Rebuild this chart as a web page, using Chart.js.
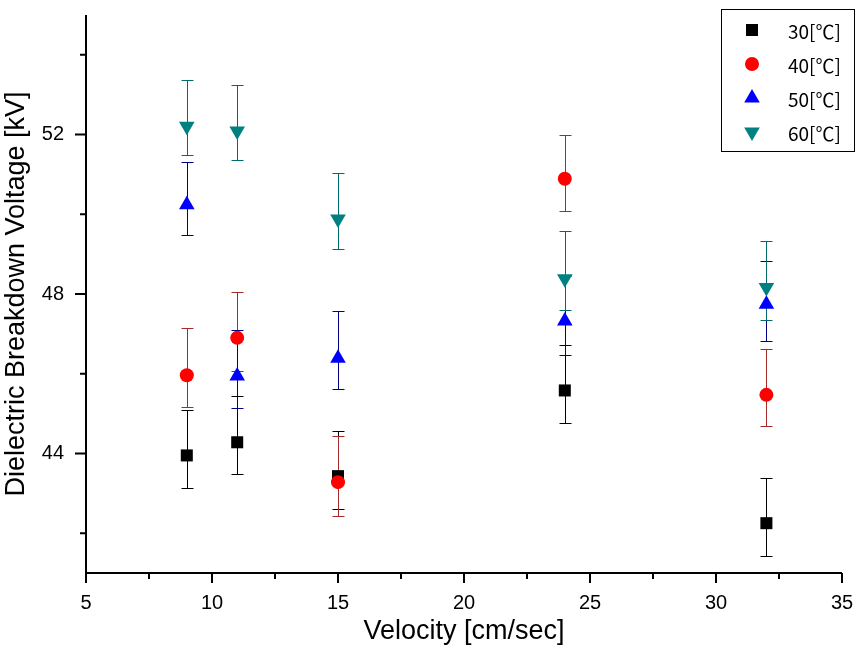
<!DOCTYPE html>
<html>
<head>
<meta charset="utf-8">
<script src="https://cdn.jsdelivr.net/npm/chart.js"></script>
<style>
  body { margin: 0; background: #ffffff; }
</style>
</head>
<body>
<canvas id="myChart" width="859" height="654"></canvas>
<script>
// velocity [cm/sec]
let velocity = [9, 11, 15, 24, 32];

// mean breakdown voltage [kV] and error bar ends, one set per temperature
let v30 = [43.95, 44.28, 43.43, 45.58, 42.25];
let v30Low = [43.14, 43.49, 42.61, 44.77, 41.42];
let v30High = [45.08, 45.44, 44.56, 46.71, 43.39];

let v40 = [45.96, 46.9, 43.28, 50.89, 45.47];
let v40Low = [45.17, 46.06, 42.44, 50.09, 44.68];
let v40High = [47.15, 48.04, 44.43, 52.0, 46.61];

let v50 = [50.24, 45.94, 46.39, 47.32, 47.74];
let v50Low = [49.47, 45.15, 45.62, 46.48, 46.81];
let v50High = [51.31, 47.1, 47.57, 48.44, 48.82];

let v60 = [52.21, 52.09, 49.88, 48.38, 48.16];
let v60Low = [51.49, 51.35, 49.12, 47.6, 47.34];
let v60High = [53.37, 53.25, 51.04, 49.59, 49.34];

let seriesLabels = ["30[\u2103]", "40[\u2103]", "50[\u2103]", "60[\u2103]"];

// tick labels
let xTicks = [5, 10, 15, 20, 25, 30, 35];
let xMinorTicks = [7.5, 12.5, 17.5, 22.5, 27.5, 32.5];
let yTicks = [44, 48, 52];
let yMinorTicks = [42, 46, 50, 54];

const FONT = "'Liberation Sans', Arial, sans-serif";
const LEGEND_FONT = "'Noto Sans CJK KR', 'Liberation Sans', sans-serif";

function points(ys) {
  return ys.map(function (v, i) {
    return { x: velocity[i], y: v };
  });
}

function makeSet(label, ys, low, high, color, barColor, style, radius, rotation, order) {
  return {
    label: label,
    data: points(ys),
    low: low,
    high: high,
    barColor: barColor,
    backgroundColor: color,
    borderColor: color,
    borderWidth: 0,
    pointStyle: style,
    pointRadius: radius,
    pointHoverRadius: radius,
    pointRotation: rotation,
    showLine: false,
    order: order,
  };
}

/********************* error bars (under the markers) *********************/
const errorBars = {
  id: "errorBars",
  beforeDatasetsDraw: function (chart) {
    const ctx = chart.ctx;
    const xs = chart.scales.x;
    const ys = chart.scales.y;
    ctx.save();
    ctx.lineWidth = 1;
    chart.data.datasets.forEach(function (ds) {
      ctx.strokeStyle = ds.barColor;
      ds.data.forEach(function (p, i) {
        const px = Math.round(xs.getPixelForValue(p.x)) + 0.5;
        const top = Math.round(ys.getPixelForValue(ds.high[i])) + 0.5;
        const bot = Math.round(ys.getPixelForValue(ds.low[i])) + 0.5;
        ctx.beginPath();
        ctx.moveTo(px, top);
        ctx.lineTo(px, bot);
        ctx.moveTo(px - 6, top);
        ctx.lineTo(px + 6, top);
        ctx.moveTo(px - 6, bot);
        ctx.lineTo(px + 6, bot);
        ctx.stroke();
      });
    });
    ctx.restore();
  },
};

/********************* left + bottom axes with ticks *********************/
const axesLines = {
  id: "axesLines",
  afterDraw: function (chart) {
    const ctx = chart.ctx;
    const a = chart.chartArea;
    const xs = chart.scales.x;
    const ys = chart.scales.y;
    ctx.save();
    ctx.strokeStyle = "#000";
    ctx.lineWidth = 2;
    ctx.beginPath();
    ctx.moveTo(a.left, a.top);
    ctx.lineTo(a.left, a.bottom);
    ctx.lineTo(a.right, a.bottom);
    xTicks.forEach(function (v) {
      const px = xs.getPixelForValue(v);
      ctx.moveTo(px, a.bottom);
      ctx.lineTo(px, a.bottom + 10);
    });
    xMinorTicks.forEach(function (v) {
      const px = xs.getPixelForValue(v);
      ctx.moveTo(px, a.bottom);
      ctx.lineTo(px, a.bottom + 6);
    });
    yTicks.forEach(function (v) {
      const py = ys.getPixelForValue(v);
      ctx.moveTo(a.left, py);
      ctx.lineTo(a.left - 11, py);
    });
    yMinorTicks.forEach(function (v) {
      const py = ys.getPixelForValue(v);
      ctx.moveTo(a.left, py);
      ctx.lineTo(a.left - 6, py);
    });
    ctx.stroke();
    ctx.restore();
  },
};

/********************* boxed legend inside the plot *********************/
const boxLegend = {
  id: "boxLegend",
  afterDraw: function (chart) {
    const ctx = chart.ctx;
    const a = chart.chartArea;
    const left = a.right - 121;
    const top = a.top - 6;
    ctx.save();
    ctx.fillStyle = "#fff";
    ctx.fillRect(left, top, 133, 142);
    ctx.strokeStyle = "#000";
    ctx.lineWidth = 1;
    ctx.strokeRect(left + 0.5, top + 0.5, 133, 142);
    chart.data.datasets.forEach(function (ds, i) {
      const cy = top + 21 + i * 34;
      const cx = left + 31;
      ctx.fillStyle = ds.backgroundColor;
      ctx.strokeStyle = ds.backgroundColor;
      Chart.helpers.drawPoint(ctx, {
        pointStyle: ds.pointStyle,
        radius: ds.pointRadius,
        rotation: ds.pointRotation,
        borderWidth: 0,
      }, cx, cy);
      ctx.fillStyle = "#000";
      ctx.font = "19px " + LEGEND_FONT;
      ctx.textBaseline = "middle";
      ctx.textAlign = "left";
      ctx.fillText(ds.label, left + 67, cy + 2);
    });
    ctx.restore();
  },
};

var ctx = document.getElementById("myChart");
var myChart = new Chart(ctx, {
  type: "scatter",
  data: {
    datasets: [
      makeSet(seriesLabels[0], v30, v30Low, v30High, "#000000", "#000000", "rect", 8.5, 0, 4),
      makeSet(seriesLabels[1], v40, v40Low, v40High, "#ff0000", "#a52a2a", "circle", 7, 0, 3),
      makeSet(seriesLabels[2], v50, v50Low, v50High, "#0000ff", "#000080", "triangle", 9, 0, 2),
      makeSet(seriesLabels[3], v60, v60Low, v60High, "#008080", "#006b6b", "triangle", 9, 180, 1),
    ],
  },
  options: {
    responsive: false,
    animation: false,
    events: [],
    layout: {
      padding: { top: 15, right: 17, left: 0, bottom: 0 },
    },
    plugins: {
      legend: { display: false },
      tooltip: { enabled: false },
    },
    scales: {
      x: {
        type: "linear",
        min: 5,
        max: 35,
        grid: { display: false },
        border: { display: false },
        afterBuildTicks: function (scale) {
          scale.ticks = xTicks.map(function (v) { return { value: v }; });
        },
        afterFit: function (scale) {
          scale.height = 81;
          scale.paddingLeft = 0;
          scale.paddingRight = 0;
        },
        ticks: {
          autoSkip: false,
          maxRotation: 0,
          padding: 10,
          color: "#000",
          font: { family: FONT, size: 20 },
        },
        title: {
          display: true,
          text: "Velocity [cm/sec]",
          color: "#000",
          font: { family: FONT, size: 27 },
          padding: { top: 0, bottom: 6 },
        },
      },
      y: {
        type: "linear",
        min: 41,
        max: 55,
        grid: { display: false },
        border: { display: false },
        afterBuildTicks: function (scale) {
          scale.ticks = yTicks.map(function (v) { return { value: v }; });
        },
        afterFit: function (scale) {
          scale.width = 86;
          scale.paddingTop = 0;
          scale.paddingBottom = 0;
        },
        ticks: {
          autoSkip: false,
          padding: 14,
          color: "#000",
          font: { family: FONT, size: 20 },
        },
        title: {
          display: true,
          text: "Dielectric Breakdown Voltage [kV]",
          color: "#000",
          font: { family: FONT, size: 27 },
          padding: { top: 0, bottom: 0 },
        },
      },
    },
  },
  plugins: [errorBars, axesLines, boxLegend],
});
</script>
</body>
</html>
